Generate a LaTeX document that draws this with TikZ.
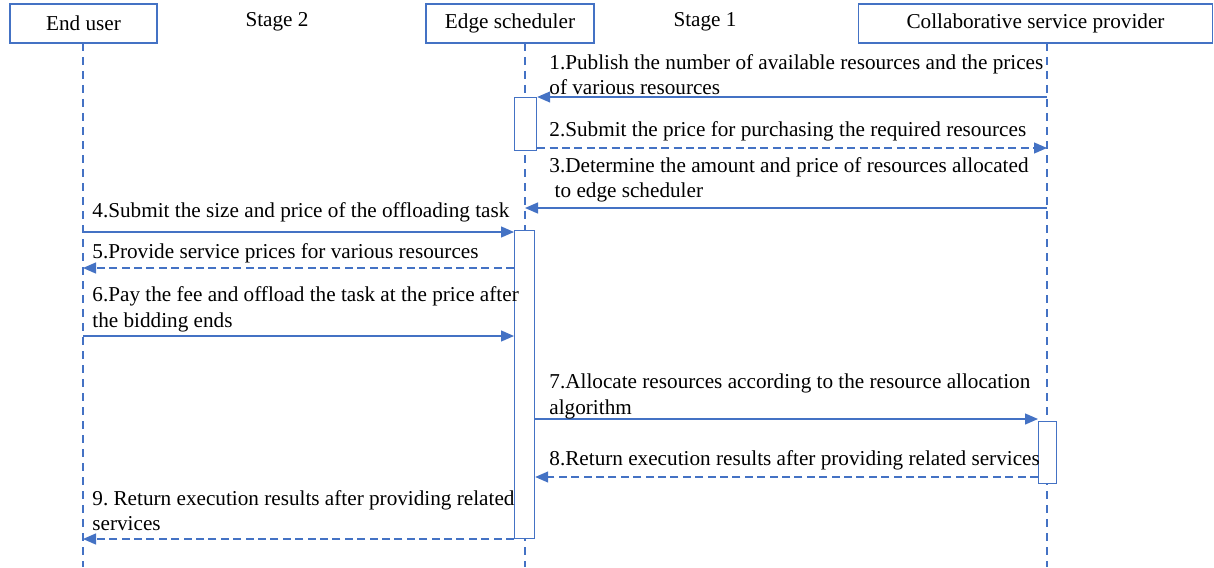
\documentclass[tikz,border=0pt]{standalone}
\usepackage{fontspec}
\setmainfont{Liberation Serif}
\usetikzlibrary{arrows.meta}
\definecolor{lblue}{HTML}{4472C4}
\begin{document}
\begin{tikzpicture}[x=0.5pt,y=-0.5pt,
  actor/.style={draw=lblue, line width=0.6pt, minimum height=19.5pt, inner sep=0pt, font=\fontsize{10.6}{12}\selectfont},
  life/.style={draw=lblue, line width=0.55pt, dash pattern=on 4pt off 3pt},
  actbox/.style={draw=lblue, line width=0.6pt, fill=white},
  msg/.style={draw=lblue, line width=0.65pt, -{Triangle[length=6.5pt,width=5.5pt]}},
  reply/.style={msg, dash pattern=on 4pt off 2.2pt},
  lbl/.style={anchor=west, inner sep=0pt, align=left, font=\fontsize{10.6}{12.8}\selectfont},
  stage/.style={inner sep=0pt, font=\fontsize{10.6}{12}\selectfont}]
\useasboundingbox (0,0) rectangle (1214,567);
% actors
\node[actor, minimum width=73.5pt] (user) at (83.5,23.5) {End user};
\node[actor, minimum width=84pt] (edge) at (510,23.5) {Edge scheduler};
\node[actor, minimum width=177pt] (csp) at (1035.5,23.5) {Collaborative service provider};
\node[stage] (s2) at (277,21.5) {Stage 2};
\node[stage] (s1) at (705,21.5) {Stage 1};
% lifeline ends
\coordinate (userEnd) at (83,567);
\coordinate (edgeEnd) at (525,567);
\coordinate (cspEnd) at (1047,567);
\draw[life] (83,43) -- (userEnd);
\draw[life] (525,43) -- (edgeEnd);
\draw[life] (1047,43) -- (cspEnd);
% activation boxes
\node[actbox, minimum width=11pt, minimum height=26.5pt, inner sep=0pt, anchor=north west] (a1) at (514,97) {};
\node[actbox, minimum width=10pt, minimum height=154pt, inner sep=0pt, anchor=north west] (a2) at (514,230) {};
\node[actbox, minimum width=9pt, minimum height=31pt, inner sep=0pt, anchor=north west] (a3) at (1038,421) {};
% message anchor points on lifelines
\coordinate (m1) at (1047,97);
\coordinate (m2) at (1047,148);
\coordinate (m3) at (1047,208);
\coordinate (m4) at (83,232);
\coordinate (m5) at (83,268);
\coordinate (m6) at (83,336);
\coordinate (m7) at (1038,419);
\coordinate (m8) at (534,477);
\coordinate (m9) at (83,539);
% messages
\draw[msg] (m1) -- (a1.east |- m1);
\draw[reply] (a1.east |- m2) -- (m2);
\draw[msg] (m3) -- (525,208);
\draw[msg] (m4) -- (a2.west |- m4);
\draw[reply] (a2.west |- m5) -- (m5);
\draw[msg] (m6) -- (a2.west |- m6);
\draw[msg] (a2.east |- m7) -- (m7);
\draw[reply] (a3.west |- m8) -- (a2.east |- m8);
\draw[reply] (a2.west |- m9) -- (m9);
% labels
\node[lbl] (t1) at (549,74.5) {1.Publish the number of available resources and the prices\\of various resources};
\node[lbl] (t2) at (549,131) {2.Submit the price for purchasing the required resources};
\node[lbl] (t3) at (549,180) {3.Determine the amount and price of resources allocated\\ \ to edge scheduler};
\node[lbl] (t4) at (92,212) {4.Submit the size and price of the offloading task};
\node[lbl] (t5) at (92,253) {5.Provide service prices for various resources};
\node[lbl] (t6) at (92,309.5) {6.Pay the fee and offload the task at the price after\\the bidding ends};
\node[lbl] (t7) at (549,396.5) {7.Allocate resources according to the resource allocation\\algorithm};
\node[lbl] (t8) at (549,460) {8.Return execution results after providing related services};
\node[lbl] (t9) at (92,510.5) {9.\ Return execution results after providing related\\services};
\end{tikzpicture}
\end{document}
